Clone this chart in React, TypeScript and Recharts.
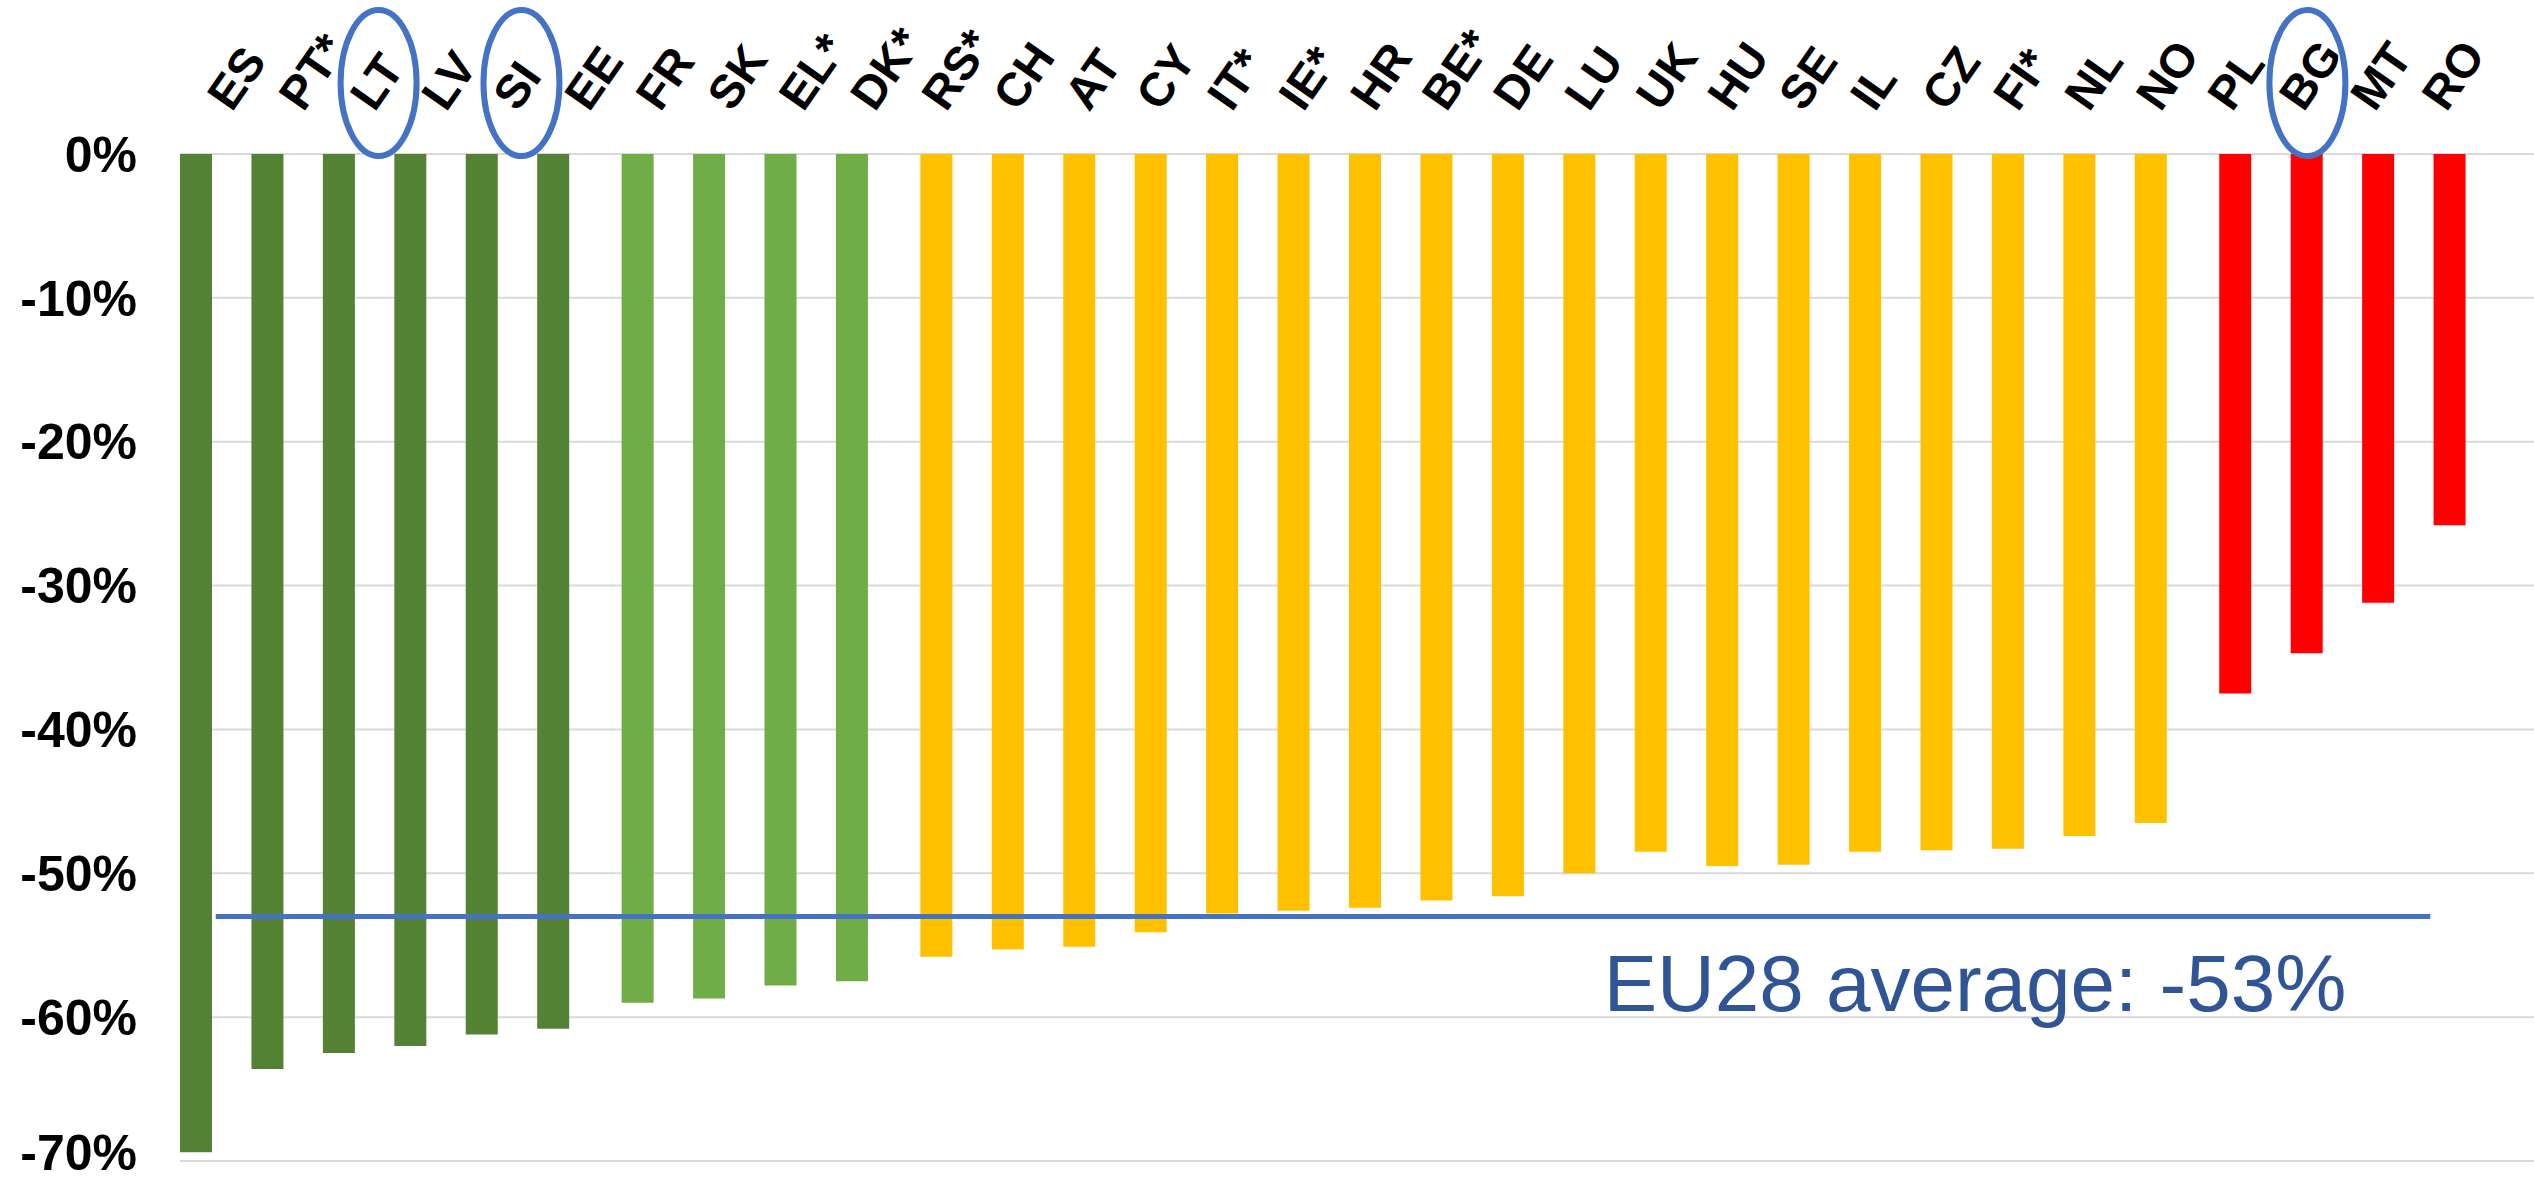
import { BarChart, Bar, XAxis, YAxis, CartesianGrid, ReferenceLine } from 'recharts'

// country order as in the chart (left to right)
const countries = [
  'ES', 'PT*', 'LT', 'LV', 'SI', 'EE',
  'FR', 'SK', 'EL*', 'DK*',
  'RS*', 'CH', 'AT', 'CY', 'IT*', 'IE*', 'HR', 'BE*', 'DE', 'LU', 'UK', 'HU', 'SE', 'IL', 'CZ', 'FI*', 'NL', 'NO',
  'PL', 'BG', 'MT', 'RO',
]

// change in %
const change = [
  -69.4, -63.6, -62.5, -62.0, -61.2, -60.8,
  -59.0, -58.7, -57.8, -57.5,
  -55.8, -55.3, -55.1, -54.1, -52.8, -52.6, -52.4, -51.9, -51.6, -50.0, -48.5, -49.5, -49.4, -48.5, -48.4, -48.3, -47.4, -46.5,
  -37.5, -34.7, -31.2, -25.8,
]

// colour group of each country (0 dark green, 1 light green, 2 amber, 3 red)
const tier = [
  0, 0, 0, 0, 0, 0,
  1, 1, 1, 1,
  2, 2, 2, 2, 2, 2, 2, 2, 2, 2, 2, 2, 2, 2, 2, 2, 2, 2,
  3, 3, 3, 3,
]

const tierColors = ['#548235', '#70AD47', '#FFC000', '#FF0000']
const circled = ['LT', 'SI', 'BG']
const yTicks = [0, -10, -20, -30, -40, -50, -60, -70]
const euAverage = -53

// one series per colour group, like the original clustered chart
const rows = countries.map((c, i) => {
  const row: Record<string, string | number | null> = { country: c }
  tierColors.forEach((_, k) => {
    row[`t${k}`] = tier[i] === k ? change[i] : null
  })
  return row
})

const FONT = 'Arial, "Liberation Sans", sans-serif'

function CountryTick(props: any) {
  const { x, y, payload } = props
  const ax = x + 16
  const ay = y - 41
  return (
    <g>
      <text
        transform={`translate(${ax},${ay}) rotate(-55)`}
        fontSize={47}
        fontWeight="bold"
        fontFamily={FONT}
        fill="#000"
      >
        {payload.value}
      </text>
      {circled.includes(payload.value) && (
        <ellipse cx={ax + 4} cy={ay - 30} rx={38} ry={73} fill="none" stroke="#4472C4" strokeWidth={6} />
      )}
    </g>
  )
}

function AvgLabel(props: any) {
  const vb = props.viewBox || {}
  return (
    <text
      x={(vb.x ?? 0) + (vb.width ?? 0) - 84}
      y={(vb.y ?? 0) + 95}
      textAnchor="end"
      fontSize={80}
      fontFamily={FONT}
      fill="#2F5597"
    >
      EU28 average: -53%
    </text>
  )
}

export default function App() {
  return (
    <div style={{ position: 'absolute', left: 0, top: 0, width: 2534, height: 1181, background: '#fff' }}>
      <BarChart
        width={2534}
        height={1181}
        data={rows}
        margin={{ top: 0, right: 0, bottom: 20, left: 0 }}
        barSize={32}
        barGap={-19}
      >
        <CartesianGrid vertical={false} stroke="#d9d9d9" strokeWidth={2} />
        <XAxis
          dataKey="country"
          orientation="top"
          height={154}
          interval={0}
          tickLine={false}
          axisLine={false}
          tickSize={0}
          tickMargin={0}
          padding={{ left: 0, right: 68 }}
          tick={<CountryTick />}
        />
        <YAxis
          type="number"
          domain={[-70, 0]}
          ticks={yTicks}
          width={180}
          tickLine={false}
          axisLine={false}
          tickSize={0}
          tickMargin={43}
          tickFormatter={(v: number) => `${v}%`}
          tick={{ fontSize: 50, fontWeight: 'bold', fill: '#000', fontFamily: FONT }}
        />
        {tierColors.map((color, k) => (
          <Bar key={k} dataKey={`t${k}`} fill={color} isAnimationActive={false} />
        ))}
        <ReferenceLine
          segment={[{ x: 'ES', y: euAverage }, { x: 'RO', y: euAverage }]}
          stroke="#4472C4"
          strokeWidth={5}
          label={<AvgLabel />}
        />
      </BarChart>
    </div>
  )
}
